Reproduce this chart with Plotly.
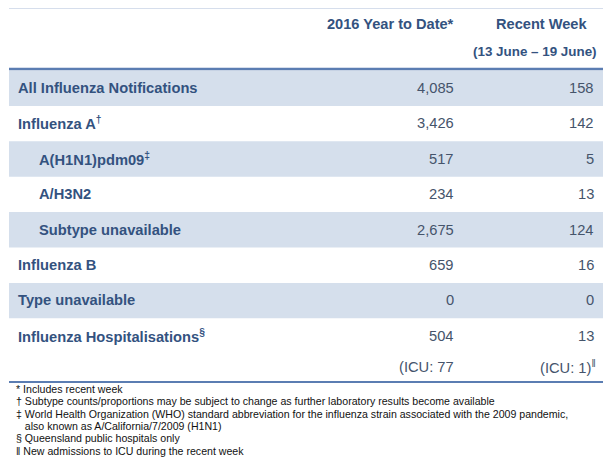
import plotly.graph_objects as go

labels = ["All Influenza Notifications", "Influenza A<sup>†</sup>", "A(H1N1)pdm09<sup>‡</sup>",
          "A/H3N2", "Subtype unavailable", "Influenza B", "Type unavailable",
          "Influenza Hospitalisations<sup>§</sup>"]
indent = [0, 0, 1, 1, 1, 0, 0, 0]
ytd = ["4,085", "3,426", "517", "234", "2,675", "659", "0", "504"]
week = ["158", "142", "5", "13", "124", "16", "0", "13"]
footnotes = ["* Includes recent week",
             "† Subtype counts/proportions may be subject to change as further laboratory results become available",
             "‡ World Health Organization (WHO) standard abbreviation for the influenza strain associated with the 2009 pandemic,",
             "   also known as A/California/7/2009 (H1N1)",
             "§ Queensland public hospitals only",
             "‖ New admissions to ICU during the recent week"]

blue = "#5b7db2"
label_col = "#33527f"
num_col = "#45546b"
fill = "#d5dfec"
font = "Liberation Sans, Arial"

fig = go.Figure()
shapes = []
ann = []

shapes.append(dict(type="line", x0=9, x1=603, y0=7, y1=7, line=dict(color=blue, width=2.5)))
shapes.append(dict(type="line", x0=9, x1=603, y0=69, y1=69, line=dict(color=blue, width=2.5)))
shapes.append(dict(type="line", x0=9, x1=603, y0=382, y1=382, line=dict(color=blue, width=2)))

ann.append(dict(x=456, y=24, text="<b>2016 Year to Date*</b>", xanchor="right", font=dict(size=14.6, color=label_col)))
ann.append(dict(x=541, y=24, text="<b>Recent Week</b>", xanchor="center", font=dict(size=14.6, color=label_col)))
ann.append(dict(x=535, y=51, text="<b>(13 June – 19 June)</b>", xanchor="center", font=dict(size=13.4, color=label_col)))

for i, lab in enumerate(labels):
    top = 70.5 + 35.4 * i
    if i % 2 == 0:
        shapes.append(dict(type="rect", x0=9, x1=603, y0=top, y1=top + 35.4, fillcolor=fill, line=dict(width=0), layer="below"))
    yc = top + 17.5
    ann.append(dict(x=16 + 21 * indent[i], y=yc, text="<b>" + lab + "</b>", xanchor="left", font=dict(size=14.7, color=label_col)))
    ann.append(dict(x=456, y=yc, text=ytd[i], xanchor="right", font=dict(size=14.7, color=num_col)))
    ann.append(dict(x=596, y=yc, text=week[i], xanchor="right", font=dict(size=14.7, color=num_col)))

ann.append(dict(x=456, y=367, text="(ICU: 77", xanchor="right", font=dict(size=14.7, color=num_col)))
ann.append(dict(x=598, y=367, text="(ICU: 1)<sup>‖</sup>", xanchor="right", font=dict(size=14.7, color=num_col)))

for j, f in enumerate(footnotes):
    ann.append(dict(x=14, y=389 + 12.3 * j, text=f, xanchor="left", font=dict(size=10.6, color="#111111")))

for a in ann:
    a.update(xref="x", yref="y", showarrow=False, yanchor="middle")

# page body has an 8px margin, so shift the axis window to compensate
fig.update_layout(
    width=612, height=467, margin=dict(l=0, r=0, t=0, b=0),
    paper_bgcolor="white", plot_bgcolor="white",
    xaxis=dict(range=[8, 620], visible=False, fixedrange=True),
    yaxis=dict(range=[475, 8], visible=False, fixedrange=True),
    shapes=shapes, annotations=ann, font=dict(family=font), showlegend=False,
)
fig.write_html("out.html")
